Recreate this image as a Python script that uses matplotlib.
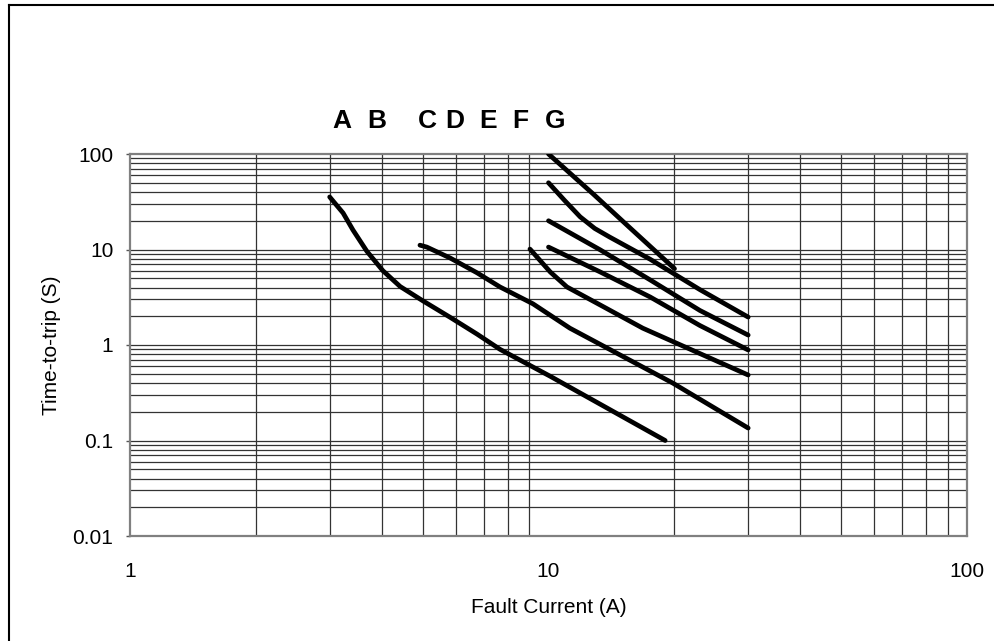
import matplotlib
matplotlib.use("Agg")
import matplotlib.pyplot as plt
from matplotlib.lines import Line2D

plt.rcParams['font.family'] = ['Liberation Sans', 'DejaVu Sans']

# Curve data (Fault current A, time-to-trip s)
curve1_x = [3.0, 3.23, 3.41, 3.68, 4.02, 4.42, 5.01, 5.82, 6.75, 7.66, 10.1, 19.0]
curve1_y = [35.5, 24.1, 16.0, 9.6, 6.0, 4.1, 2.9, 1.95, 1.3, 0.9, 0.47, 0.10]

curve2_x = [4.93, 5.12, 5.82, 6.75, 7.66, 9.18, 11.25, 19.8, 30.0]
curve2_y = [11.1, 10.6, 8.15, 5.7, 4.05, 2.7, 1.5, 0.4, 0.135]

curve3_x = [9.03, 10.1, 11.07, 13.3, 16.8, 30.0]
curve3_y = [10.1, 5.81, 4.05, 2.62, 1.5, 0.485]

curve4_x = [10.0, 13.3, 17.5, 23.0, 30.0]
curve4_y = [10.6, 5.81, 3.18, 1.6, 0.887]

curve5_x = [10.0, 13.3, 17.5, 23.0, 30.0]
curve5_y = [20.0, 9.9, 4.8, 2.3, 1.27]

curve6_x = [10.0, 10.9, 11.9, 12.9, 14.0, 17.5, 23.0, 30.0]
curve6_y = [50.0, 33.0, 22.0, 16.6, 13.5, 7.9, 3.8, 1.96]

curve7_x = [10.0, 12.8, 15.4, 20.0]
curve7_y = [100.0, 38.0, 18.0, 6.3]

curves = [(curve1_x, curve1_y), (curve2_x, curve2_y), (curve3_x, curve3_y),
          (curve4_x, curve4_y), (curve5_x, curve5_y), (curve6_x, curve6_y),
          (curve7_x, curve7_y)]

letters = ['A', 'B', 'C', 'D', 'E', 'F', 'G']
letter_px = [342, 377, 427, 455, 488, 520, 555]

x_ticks = [1, 10, 100]
x_tick_labels = ['1', '10', '100']
y_ticks = [0.01, 0.1, 1, 10, 100]
y_tick_labels = ['0.01', '0.1', '1', '10', '100']

W, H = 995, 641
fig = plt.figure(figsize=(W / 100, H / 100), dpi=100)
ax = fig.add_axes([130 / W, 1 - 536 / H, (967 - 130) / W, (536 - 154) / H])
ax.set_xscale('log')
ax.set_yscale('log')
ax.set_xlim(1, 100)
ax.set_ylim(0.01, 100)

# grid lines
for dec in [1, 10]:
    for m in range(2, 10):
        ax.axvline(dec * m, color='#333333', lw=0.9, zorder=1)
for dec in [0.01, 0.1, 1, 10]:
    for m in range(1, 10):
        if dec * m > 0.01:
            ax.axhline(dec * m, color='#333333', lw=0.9, zorder=1)

for xs, ys in curves:
    ax.plot(xs, ys, color='black', lw=3.4, solid_capstyle='round',
            solid_joinstyle='round', zorder=3)

ax.set_xticks(x_ticks)
ax.set_xticklabels(x_tick_labels)
ax.set_yticks(y_ticks)
ax.set_yticklabels(y_tick_labels)
ax.minorticks_off()
ax.tick_params(axis='x', length=0, pad=19, labelsize=15)
ax.tick_params(axis='y', length=3, width=1, pad=9, labelsize=15, color='#555555')
for s in ax.spines.values():
    s.set_color('#808080')
    s.set_linewidth(1.6)

ax.set_xlabel('Fault Current (A)', fontsize=15, labelpad=12)
ax.set_ylabel('Time-to-trip (S)', fontsize=15, labelpad=8)

for L, px in zip(letters, letter_px):
    fig.text(px / W, 1 - 121 / H, L, fontsize=19, fontweight='bold',
             ha='center', va='center')

# figure border (top and left)
fig.add_artist(Line2D([9 / W, 1], [1 - 5 / H, 1 - 5 / H], color='black', lw=1.5,
                      transform=fig.transFigure))
fig.add_artist(Line2D([9 / W, 9 / W], [0, 1 - 5 / H], color='black', lw=1.5,
                      transform=fig.transFigure))

fig.savefig('out.png', dpi=100)
